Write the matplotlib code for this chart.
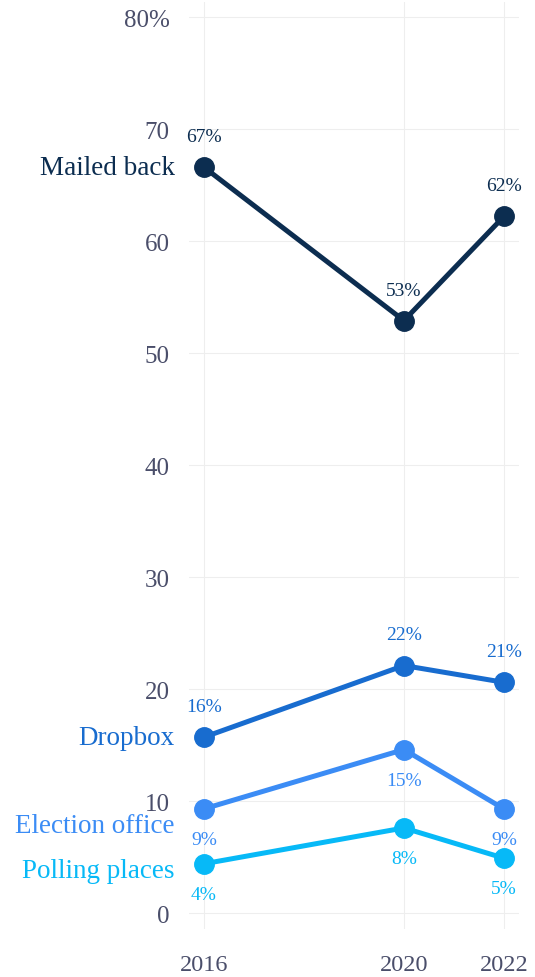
import matplotlib.pyplot as plt

years = [2016, 2020, 2022]
series = ["Mailed back", "Dropbox", "Election office", "Polling places"]
mailed = [66.6, 52.9, 62.2]
dropbox = [15.7, 22.1, 20.6]
office = [9.3, 14.6, 9.3]
polling = [4.4, 7.6, 4.9]
value_labels = [
    ["67%", "53%", "62%"],
    ["16%", "22%", "21%"],
    ["9%", "15%", "9%"],
    ["4%", "8%", "5%"],
]
yticks = [0, 10, 20, 30, 40, 50, 60, 70, 80]
ytick_labels = ["0", "10", "20", "30", "40", "50", "60", "70", "80%"]

colors = ["#0c2d50", "#186ccf", "#3b8cf5", "#07b9f7"]
values = [mailed, dropbox, office, polling]
# label above (+) or below (-) the point
label_side = [1, 1, -1, -1]
# vertical offset of the series name, in points
name_offset = [0, 0, -12, -5]

plt.rcParams['font.family'] = ['Liberation Serif', 'DejaVu Serif']

fig = plt.figure(figsize=(5.35, 9.78), dpi=100)
ax = fig.add_axes([0.353, 0.049, 0.617, 0.948])

for name, vals, col, side, off, labs in zip(series, values, colors, label_side, name_offset, value_labels):
    ax.plot(years, vals, color=col, lw=3.6, marker="o", ms=14, solid_capstyle="round", zorder=3)
    for x, v, lab in zip(years, vals, labs):
        ax.annotate(lab, (x, v), xytext=(0, 22 * side), textcoords="offset points",
                    ha="center", va="center", fontsize=14, color=col)
    ax.annotate(name, (years[0], vals[0]), xytext=(-21, off), textcoords="offset points",
                ha="right", va="center", fontsize=19.5, color=col, annotation_clip=False)

ax.set_xlim(2015.7, 2022.3)
ax.set_ylim(-1.43, 81.35)
ax.set_xticks(years)
ax.set_yticks(yticks)
ax.set_yticklabels(ytick_labels)
ax.tick_params(axis="y", length=0, pad=14, labelsize=18, labelcolor="#4a4e6a")
ax.tick_params(axis="x", length=0, pad=18, labelsize=17.5, labelcolor="#4a4e6a")
ax.grid(True, color="#eeeeee", lw=0.8, zorder=0)
for s in ax.spines.values():
    s.set_visible(False)

fig.savefig("out.png", dpi=100)
